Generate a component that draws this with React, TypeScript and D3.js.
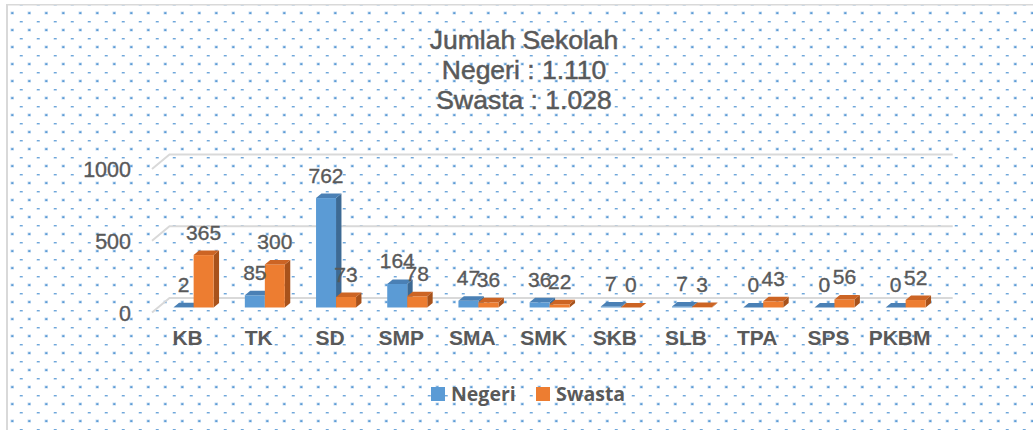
import React from "react";
import * as d3 from "d3";

const categories = ["KB", "TK", "SD", "SMP", "SMA", "SMK", "SKB", "SLB", "TPA", "SPS", "PKBM"];
const negeri = [2, 85, 762, 164, 47, 36, 7, 7, 0, 0, 0];
const swasta = [365, 300, 73, 78, 36, 22, 0, 3, 43, 56, 52];
const seriesNames = ["Negeri", "Swasta"];
const yTicks = [0, 500, 1000];
const titleLines = ["Jumlah Sekolah", "Negeri : 1.110", "Swasta : 1.028"];

const W = 1033;
const H = 430;
const TXT = "#595959";
const FONT = "'Liberation Sans', Arial, sans-serif";

const colors = {
  Negeri: { front: "#5B9BD5", top: "#4A80B5", side: "#3D6A94" },
  Swasta: { front: "#ED7D31", top: "#CC6424", side: "#A8521B" },
};

export default function App() {
  const frontLeft = 152;
  const frontRight = 935.2;
  const floorFrontY = 312.5;
  const depthDx = 17.5;
  const depthDy = -14.5;
  const barT = 0.345;
  const barDepth = 0.31;

  const x0 = d3.scaleBand<string>().domain(categories).range([frontLeft, frontRight]).paddingInner(0).paddingOuter(0);
  const groupW = 40;
  const x1 = d3.scaleBand<string>().domain(seriesNames).range([0, groupW]).padding(0);
  const h = d3.scaleLinear().domain([0, 1000]).range([0, 143.6]);

  const barOffX = depthDx * barT;
  const barOffY = depthDy * barT;
  const bdx = depthDx * barDepth;
  const bdy = depthDy * barDepth;
  const barBaseY = floorFrontY + barOffY;

  const data = [negeri, swasta];

  const bars: any[] = [];
  const labels: any[] = [];
  categories.forEach((c, i) => {
    const gx = (x0(c) as number) + x0.bandwidth() / 2 - groupW / 2 + barOffX;
    seriesNames.forEach((s, si) => {
      const v = data[si][i];
      const col = (colors as any)[s];
      const xl = gx + (x1(s) as number);
      const xr = xl + x1.bandwidth();
      const yt = barBaseY - h(v);
      const yb = barBaseY;
      const top = `M${xl},${yt} L${xr},${yt} L${xr + bdx},${yt + bdy} L${xl + bdx},${yt + bdy} Z`;
      const side = `M${xr},${yt} L${xr + bdx},${yt + bdy} L${xr + bdx},${yb + bdy} L${xr},${yb} Z`;
      bars.push(
        <g key={`${c}-${s}`}>
          {v > 0 && <path d={side} fill={col.side} />}
          {v > 0 && <rect x={xl} y={yt} width={xr - xl} height={yb - yt} fill={col.front} />}
          <path d={top} fill={col.top} />
        </g>
      );
      labels.push(
        <text
          key={`l-${c}-${s}`}
          x={(xl + xr) / 2}
          y={yt - 15.5}
          textAnchor="middle"
          fontSize={21}
          fontFamily={FONT}
          fill={TXT}
          stroke={TXT}
          strokeWidth={0.35}
        >
          {v}
        </text>
      );
    });
  });

  const backY0 = floorFrontY + depthDy;

  return (
    <svg
      width={W}
      height={H}
      style={{ position: "absolute", left: 0, top: 0, background: "#fff" }}
      xmlns="http://www.w3.org/2000/svg"
    >
      <defs>
        <pattern id="dots" patternUnits="userSpaceOnUse" x={0} y={0} width={17} height={17}>
          <rect x={10.5} y={11.5} width={3.5} height={3} fill="#C6DCF1" />
          <rect x={11.3} y={12.2} width={2} height={1.8} fill="#5B9BD5" />
          <rect x={2.5} y={4} width={3.5} height={1.6} fill="#BFD7EF" />
          <rect x={3} y={4.2} width={2.5} height={1} fill="#5B9BD5" />
        </pattern>
      </defs>
      <rect x={0} y={0} width={W} height={H} fill="#fff" />
      <rect x={6} y={4} width={W} height={H} fill="url(#dots)" />
      <line x1={7} y1={4} x2={7} y2={H} stroke="#D9D9D9" strokeWidth={2} />
      <line x1={6} y1={4.75} x2={W} y2={4.75} stroke="#D9D9D9" strokeWidth={1.5} />

      {titleLines.map((t, i) => (
        <text
          key={t}
          x={524}
          y={48.5 + i * 30.3}
          textAnchor="middle"
          fontSize={26.5}
          fontFamily={FONT}
          fill={TXT}
          stroke={TXT}
          strokeWidth={0.5}
        >
          {t}
        </text>
      ))}

      {yTicks.map((t) => {
        const fy = floorFrontY - h(t);
        const by = backY0 - h(t);
        return (
          <g key={`g${t}`}>
            <path
              d={`M${frontLeft},${fy} L${frontLeft + depthDx},${by} L${frontRight + depthDx},${by}`}
              fill="none"
              stroke="#D9D9D9"
              strokeWidth={2}
            />
            <text
              x={131}
              y={fy + 8}
              textAnchor="end"
              fontSize={21.5}
              fontFamily={FONT}
              fill={TXT}
              stroke={TXT}
              strokeWidth={0.35}
            >
              {t}
            </text>
          </g>
        );
      })}

      {bars}
      {labels}

      {categories.map((c) => (
        <text
          key={`c${c}`}
          x={(x0(c) as number) + x0.bandwidth() / 2}
          y={345}
          textAnchor="middle"
          fontSize={21}
          fontWeight="bold"
          fontFamily={FONT}
          fill={TXT}
        >
          {c}
        </text>
      ))}

      {seriesNames.map((s, i) => {
        const lx = i === 0 ? 431 : 536;
        return (
          <g key={`lg${s}`}>
            <rect x={lx} y={387} width={14} height={14} fill={(colors as any)[s].front} />
            <text
              x={lx + 20}
              y={401}
              fontSize={19.5}
              fontWeight="bold"
              fontFamily="'Open Sans', sans-serif"
              fill={TXT}
            >
              {s}
            </text>
          </g>
        );
      })}
    </svg>
  );
}
